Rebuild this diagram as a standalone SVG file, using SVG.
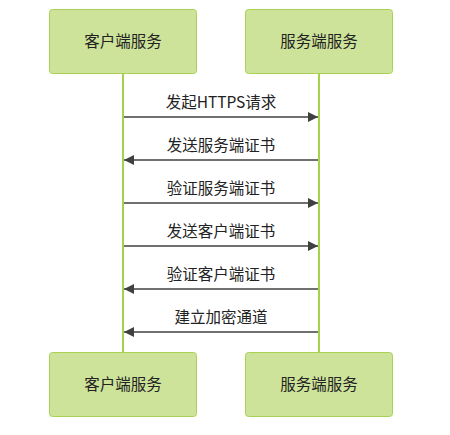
<svg xmlns="http://www.w3.org/2000/svg" width="450" height="435" viewBox="0 0 450 435">
<style>
.box{fill:#cde39a;stroke:#a9d255;stroke-width:1}
.life{stroke:#a6d14b;stroke-width:2;fill:none}
.msg{stroke:#404040;stroke-width:1.5;fill:none}
.t{font-family:"Noto Sans CJK SC","Liberation Sans",sans-serif;fill:#222;text-anchor:middle}
.bt{font-size:15.5px}
.lt{font-size:15.5px}
</style>
<defs>
<marker id="ah" viewBox="0 0 10 10" refX="10" refY="5" markerWidth="10" markerHeight="10" markerUnits="userSpaceOnUse" orient="auto">
<path d="M0,0 L10,5 L0,10 Z" fill="#404040"/>
</marker>
</defs>
<g id="connectors">
<line class="life" x1="123" y1="73" x2="123" y2="352"/>
<line class="life" x1="319" y1="73" x2="319" y2="352"/>
<line class="msg" x1="124" y1="117" x2="318" y2="117" marker-end="url(#ah)"/>
<text class="t lt" x="221" y="108">发起HTTPS请求</text>
<line class="msg" x1="318" y1="160" x2="124" y2="160" marker-end="url(#ah)"/>
<text class="t lt" x="221" y="151">发送服务端证书</text>
<line class="msg" x1="124" y1="203" x2="318" y2="203" marker-end="url(#ah)"/>
<text class="t lt" x="221" y="194">验证服务端证书</text>
<line class="msg" x1="124" y1="246" x2="318" y2="246" marker-end="url(#ah)"/>
<text class="t lt" x="221" y="237">发送客户端证书</text>
<line class="msg" x1="318" y1="289" x2="124" y2="289" marker-end="url(#ah)"/>
<text class="t lt" x="221" y="280">验证客户端证书</text>
<line class="msg" x1="318" y1="332" x2="124" y2="332" marker-end="url(#ah)"/>
<text class="t lt" x="221" y="323">建立加密通道</text>
</g>
<g id="client-top">
<rect class="box" x="49.5" y="9.5" width="147" height="64" rx="3"/>
<text class="t bt" x="123" y="47">客户端服务</text>
</g>
<g id="server-top">
<rect class="box" x="245.5" y="9.5" width="147" height="64" rx="3"/>
<text class="t bt" x="319" y="47">服务端服务</text>
</g>
<g id="client-bottom">
<rect class="box" x="49.5" y="352.5" width="147" height="64" rx="3"/>
<text class="t bt" x="123" y="390">客户端服务</text>
</g>
<g id="server-bottom">
<rect class="box" x="245.5" y="352.5" width="147" height="64" rx="3"/>
<text class="t bt" x="319" y="390">服务端服务</text>
</g>
</svg>
